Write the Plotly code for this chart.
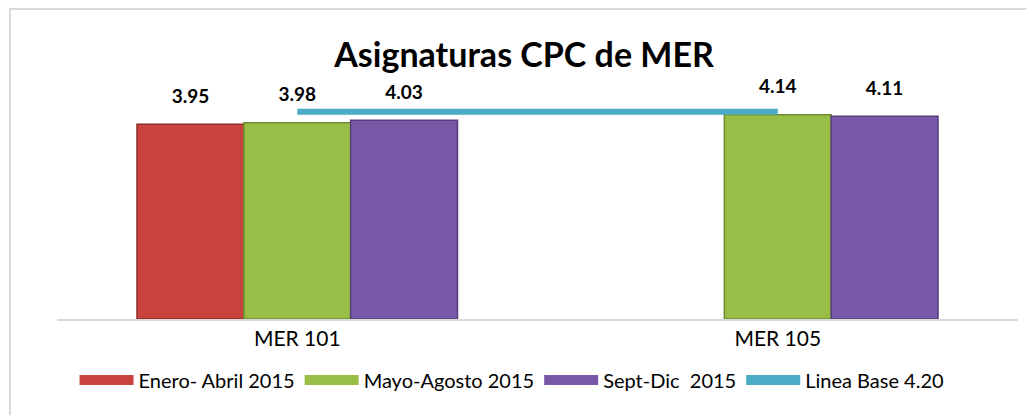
import plotly.graph_objects as go

categories = ["MER 101", "MER 105"]
series_names = ["Enero- Abril 2015", "Mayo-Agosto 2015", "Sept-Dic  2015"]
enero_abril = [3.95, None]
mayo_agosto = [3.98, 4.14]
sept_dic = [4.03, 4.11]
linea_base = [4.20, 4.20]
linea_name = "Linea Base 4.20"

FONT = "Lato"
colors = ["#C8423E", "#98BE48", "#7A58A8"]
edges = ["#8E2B28", "#6E8C2E", "#563C7C"]
line_color = "#4BACC6"
groups = ["a", "b", "c"]

fig = go.Figure()

for name, vals, col, edge, grp in zip(
    series_names, [enero_abril, mayo_agosto, sept_dic], colors, edges, groups
):
    fig.add_trace(
        go.Bar(
            x=categories,
            y=vals,
            name=name,
            offsetgroup=grp,
            marker=dict(color=col, line=dict(color=edge, width=1.5)),
            showlegend=False,
        )
    )
    # data labels, lifted above the bar by an invisible marker
    fig.add_trace(
        go.Scatter(
            x=categories,
            y=vals,
            offsetgroup=grp,
            mode="markers+text",
            marker=dict(size=25, color="rgba(0,0,0,0)"),
            text=[f"{v:.2f}" if v is not None else "" for v in vals],
            textposition="top center",
            textfont=dict(family=FONT, size=19, color="black", weight="bold"),
            cliponaxis=False,
            showlegend=False,
            hoverinfo="skip",
        )
    )

# middle group sits on the category centre
fig.add_trace(
    go.Scatter(
        x=categories,
        y=linea_base,
        offsetgroup="b",
        mode="lines",
        line=dict(color=line_color, width=6),
        showlegend=False,
    )
)

# legend-only entries with wide swatches
for name, col in zip(series_names + [linea_name], colors + [line_color]):
    fig.add_trace(
        go.Scatter(
            x=[None],
            y=[None],
            offsetgroup="b",
            mode="lines",
            name=name,
            line=dict(color=col, width=10),
        )
    )

fig.update_xaxes(
    showline=True,
    linecolor="#D9D9D9",
    linewidth=2,
    ticks="",
    tickfont=dict(family=FONT, size=21, color="black"),
)
fig.update_yaxes(visible=False, range=[0, 4.44])

fig.update_layout(
    width=1026,
    height=407,
    margin=dict(l=49, r=16, t=92, b=96),
    paper_bgcolor="white",
    plot_bgcolor="white",
    barmode="group",
    bargap=0.333,
    bargroupgap=0,
    scattermode="group",
    scattergap=0.333,
    title=dict(
        text="<b>Asignaturas CPC de MER</b>",
        font=dict(family=FONT, size=34, color="black"),
        x=0.503,
        xanchor="center",
        xref="container",
        y=0.8845,
        yanchor="middle",
    ),
    legend=dict(
        orientation="h",
        x=0.4735,
        xanchor="center",
        y=-0.2785,
        yanchor="middle",
        itemwidth=54,
        font=dict(family=FONT, size=20, color="black"),
    ),
    shapes=[
        dict(
            type="rect",
            xref="paper",
            yref="paper",
            x0=-0.0489,
            x1=1.03,
            y0=-0.5,
            y1=1.4155,
            line=dict(color="#D9D9D9", width=2),
        )
    ],
)

fig.write_html("out.html")
